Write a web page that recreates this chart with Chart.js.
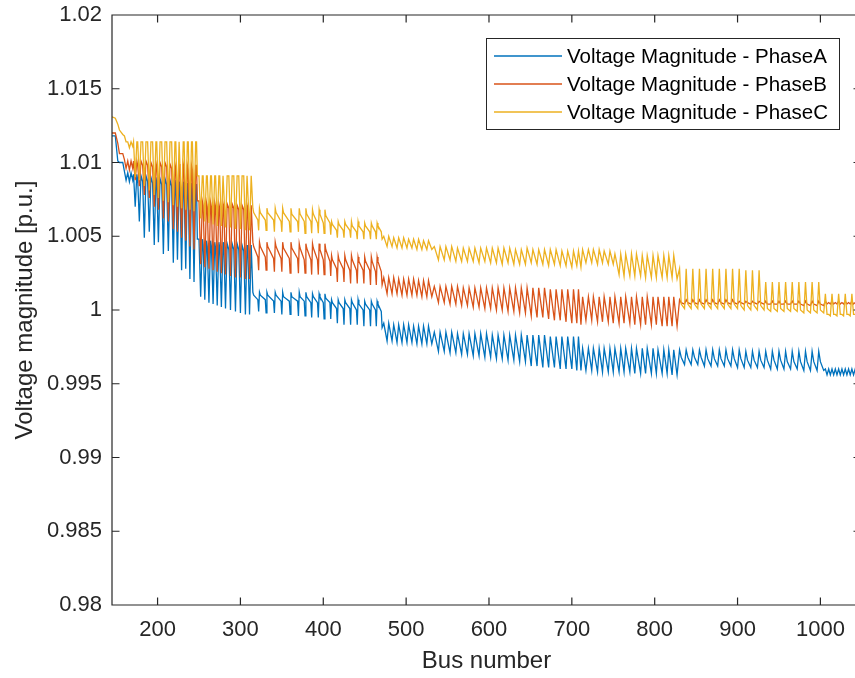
<!DOCTYPE html>
<html>
<head>
<meta charset="utf-8">
<title>Voltage magnitude per bus</title>
<script src="https://cdn.jsdelivr.net/npm/chart.js@4.4.1/dist/chart.umd.min.js"></script>
<style>
  html, body { margin: 0; padding: 0; background: #fff; overflow: hidden; }
  #grafico { display: block; }
</style>
</head>
<body>
<canvas id="grafico" width="870" height="678"></canvas>
<script>
// bus numbers shared by the three phases (same feeder topology)
const busNumber = [
  145, 149, 152, 154, 158, 160, 162, 164, 166, 168, 170,
  171,173,175, 176,178,180, 182,184,186, 188,190,192,
  194,196,198, 199,201,203, 205,207,209, 211,213,215,
  217,219,221, 222,224,226, 227,229,231, 232,234,236,
  237,239,241, 242,244,246,
  247, 248,
  250,252,254, 255,257,259, 260,262,264, 265,267,269,
  270,272,274, 275,277,279, 280,282,284, 286,288,290,
  292,294,296, 298,300,302, 304,306,308, 309,311,313,
  315,316,321,322, 323,324,330,331, 332,333,340,341,
  342,343,349,350, 351,352,359,360, 361,362,369,370,
  371,372,377,378, 379,380,385,386, 387,388,393,394,
  395,396,400,401, 402,403,408,409,
  410,411,416,417, 418,419,424,425, 426,427,432,433,
  434,435,440,441, 442,443,448,449, 450,451,456,457,
  458,459,463,464, 465,466,470,471,
  473,477, 479,483, 485,489, 491,495, 497,501,
  503,507, 509,513, 515,519, 521,525, 527,531,
  534,539, 541,546, 548,553, 555,560, 562,567, 569,574, 576,581, 583,588,
  590,595, 597,602, 604,609, 611,616, 618,623, 625,630, 632,637, 639,644,
  646,651, 653,658, 660,665, 667,672, 674,679,
  681,686, 688,693, 695,700, 702,706, 708,711,
  713,717, 720,724, 726,731, 733,737, 739,744, 746,750,
  752,757, 759,763, 765,770, 772,776, 778,783, 785,789,
  791,796, 798,802, 804,809, 811,815, 817,821, 823,827,
  830,832,836, 838,840,844, 846,848,852, 854,856,860,
  862,864,868, 870,872,876, 878,880,884, 886,888,892,
  894,896,900, 902,904,908, 910,912,916, 918,920,924,
  926,928,932, 934,936,940, 942,944,948, 950,952,956,
  958,960,964, 966,968,972, 974,976,980, 982,984,988,
  990,992,996, 998,1000,1004,
  1006,1008,1010,1012, 1014,1016,1018,1020, 1022,1024,1026,1028,
  1030,1032,1034,1036, 1038,1040,1042,1044, 1046,1048,1049
];

const voltageA = [
  1.0118, 1.0118, 1.0101, 1.0100, 1.0100, 1.0094, 1.0088, 1.0093, 1.0087, 1.0093, 1.0088,
  1.0092,1.0070,1.0092, 1.0088,1.0060,1.0091, 1.0087,1.0049,1.0091, 1.0087,1.0053,1.0090,
  1.0086,1.0044,1.0090, 1.0086,1.0046,1.0089, 1.0085,1.0038,1.0089, 1.0085,1.0040,1.0088,
  1.0084,1.0032,1.0088, 1.0084,1.0034,1.0087, 1.0083,1.0027,1.0087, 1.0083,1.0028,1.0086,
  1.0082,1.0021,1.0086, 1.0082,1.0019,1.0085,
  1.0085, 1.0048,
  1.0048,1.0009,1.0048, 1.0044,1.0007,1.0047, 1.0043,1.0005,1.0047, 1.0043,1.0004,1.0046,
  1.0042,1.0003,1.0046, 1.0042,1.0002,1.0046, 1.0042,1.0001,1.0045, 1.0041,1.0000,1.0045,
  1.0041,0.9999,1.0045, 1.0041,0.9998,1.0044, 1.0040,0.9997,1.0044, 1.0040,0.9997,1.0044,
  1.0012,1.0010,1.0007,0.9999, 1.0012,1.0010,1.0007,0.9998, 1.0012,1.0010,1.0006,0.9998,
  1.0012,1.0010,1.0006,0.9997, 1.0012,1.0009,1.0006,0.9997, 1.0012,1.0009,1.0006,0.9996,
  1.0012,1.0009,1.0006,0.9996, 1.0012,1.0009,1.0005,0.9995, 1.0011,1.0009,1.0005,0.9995,
  1.0011,1.0009,1.0005,0.9994, 1.0011,1.0008,1.0005,0.9994,
  1.0007,1.0005,1.0001,0.9991, 1.0007,1.0005,1.0001,0.9990, 1.0007,1.0005,1.0001,0.9990,
  1.0007,1.0005,1.0000,0.9990, 1.0007,1.0004,1.0000,0.9989, 1.0006,1.0004,1.0000,0.9989,
  1.0006,1.0004,1.0000,0.9989, 1.0006,1.0004,0.9999,0.9988,
  0.9991,0.9979, 0.9991,0.9979, 0.9990,0.9978, 0.9990,0.9978, 0.9990,0.9978,
  0.9990,0.9978, 0.9989,0.9977, 0.9989,0.9977, 0.9989,0.9977, 0.9989,0.9977,
  0.9985,0.9972, 0.9985,0.9972, 0.9985,0.9971, 0.9985,0.9971, 0.9984,0.9970, 0.9984,0.9970, 0.9984,0.9969, 0.9984,0.9969,
  0.9984,0.9968, 0.9984,0.9968, 0.9983,0.9967, 0.9983,0.9967, 0.9983,0.9966, 0.9983,0.9966, 0.9983,0.9965, 0.9983,0.9965,
  0.9983,0.9962, 0.9983,0.9962, 0.9983,0.9961, 0.9983,0.9961, 0.9982,0.9961,
  0.9982,0.9960, 0.9982,0.9960, 0.9982,0.9960, 0.9982,0.9959, 0.9982,0.9959,
  0.9974,0.9959, 0.9974,0.9959, 0.9974,0.9958, 0.9974,0.9958, 0.9974,0.9958, 0.9974,0.9958,
  0.9974,0.9958, 0.9974,0.9958, 0.9974,0.9958, 0.9974,0.9957, 0.9974,0.9957, 0.9974,0.9957,
  0.9974,0.9957, 0.9974,0.9957, 0.9973,0.9957, 0.9973,0.9957, 0.9973,0.9956, 0.9973,0.9956,
  0.9973,0.9968,0.9963, 0.9973,0.9968,0.9963, 0.9973,0.9968,0.9963, 0.9973,0.9968,0.9962,
  0.9973,0.9967,0.9962, 0.9973,0.9967,0.9962, 0.9973,0.9967,0.9962, 0.9973,0.9967,0.9962,
  0.9973,0.9967,0.9961, 0.9973,0.9967,0.9961, 0.9972,0.9966,0.9961, 0.9972,0.9966,0.9961,
  0.9972,0.9966,0.9961, 0.9972,0.9966,0.9960, 0.9972,0.9966,0.9960, 0.9972,0.9966,0.9960,
  0.9972,0.9965,0.9960, 0.9972,0.9965,0.9960, 0.9972,0.9965,0.9959, 0.9972,0.9965,0.9959,
  0.9972,0.9965,0.9959, 0.9972,0.9965,0.9959,
  0.9960,0.9956,0.9960,0.9956, 0.9960,0.9956,0.9960,0.9956, 0.9960,0.9956,0.9960,0.9956,
  0.9960,0.9956,0.9960,0.9956, 0.9960,0.9956,0.9960,0.9956, 0.9960,0.9956,0.9958
];

const voltageB = [
  1.0120, 1.0120, 1.0113, 1.0106, 1.0106, 1.0102, 1.0096, 1.0101, 1.0095, 1.0101, 1.0096,
  1.0101,1.0088,1.0101, 1.0098,1.0084,1.0101, 1.0098,1.0078,1.0101, 1.0098,1.0076,1.0100,
  1.0097,1.0070,1.0100, 1.0097,1.0068,1.0100, 1.0097,1.0062,1.0100, 1.0097,1.0060,1.0099,
  1.0096,1.0055,1.0099, 1.0096,1.0053,1.0099, 1.0096,1.0049,1.0099, 1.0096,1.0047,1.0098,
  1.0095,1.0043,1.0098, 1.0095,1.0041,1.0098,
  1.0098, 1.0074,
  1.0074,1.0031,1.0074, 1.0071,1.0029,1.0073, 1.0070,1.0028,1.0073, 1.0070,1.0027,1.0073,
  1.0070,1.0026,1.0072, 1.0069,1.0025,1.0072, 1.0069,1.0024,1.0072, 1.0069,1.0023,1.0072,
  1.0069,1.0022,1.0071, 1.0068,1.0022,1.0071, 1.0068,1.0021,1.0071, 1.0068,1.0021,1.0071,
  1.0046,1.0043,1.0036,1.0027, 1.0046,1.0043,1.0036,1.0027, 1.0046,1.0043,1.0035,1.0026,
  1.0046,1.0043,1.0035,1.0026, 1.0046,1.0042,1.0035,1.0025, 1.0046,1.0042,1.0035,1.0025,
  1.0045,1.0042,1.0034,1.0025, 1.0045,1.0042,1.0034,1.0024, 1.0045,1.0042,1.0034,1.0024,
  1.0045,1.0041,1.0034,1.0024, 1.0045,1.0041,1.0033,1.0023,
  1.0037,1.0034,1.0028,1.0019, 1.0037,1.0034,1.0028,1.0019, 1.0037,1.0034,1.0027,1.0018,
  1.0037,1.0034,1.0027,1.0018, 1.0036,1.0033,1.0027,1.0018, 1.0036,1.0033,1.0027,1.0017,
  1.0036,1.0033,1.0026,1.0017, 1.0036,1.0033,1.0026,1.0017,
  1.0022,1.0011, 1.0022,1.0011, 1.0022,1.0011, 1.0021,1.0010, 1.0021,1.0010,
  1.0021,1.0010, 1.0021,1.0010, 1.0020,1.0009, 1.0020,1.0009, 1.0020,1.0009,
  1.0016,1.0005, 1.0016,1.0005, 1.0016,1.0004, 1.0016,1.0004, 1.0016,1.0003, 1.0015,1.0003, 1.0015,1.0002, 1.0015,1.0002,
  1.0015,1.0001, 1.0015,1.0001, 1.0015,1.0000, 1.0015,1.0000, 1.0015,0.9999, 1.0015,0.9999, 1.0015,0.9998, 1.0015,0.9998,
  1.0015,0.9996, 1.0015,0.9995, 1.0015,0.9995, 1.0015,0.9994, 1.0014,0.9993,
  1.0014,0.9993, 1.0014,0.9992, 1.0014,0.9991, 1.0014,0.9991, 1.0014,0.9990,
  1.0009,0.9993, 1.0009,0.9993, 1.0009,0.9992, 1.0009,0.9992, 1.0009,0.9992, 1.0009,0.9991,
  1.0009,0.9991, 1.0009,0.9991, 1.0009,0.9991, 1.0009,0.9990, 1.0009,0.9990, 1.0009,0.9990,
  1.0009,0.9990, 1.0009,0.9990, 1.0009,0.9989, 1.0009,0.9989, 1.0009,0.9989, 1.0009,0.9989,
  1.0007,1.0005,1.0004, 1.0007,1.0005,1.0004, 1.0007,1.0005,1.0004, 1.0007,1.0005,1.0004,
  1.0007,1.0005,1.0004, 1.0007,1.0005,1.0004, 1.0007,1.0005,1.0004, 1.0007,1.0005,1.0004,
  1.0007,1.0005,1.0004, 1.0006,1.0005,1.0004, 1.0006,1.0005,1.0004, 1.0006,1.0005,1.0004,
  1.0006,1.0005,1.0004, 1.0006,1.0004,1.0004, 1.0006,1.0004,1.0004, 1.0006,1.0004,1.0004,
  1.0006,1.0004,1.0004, 1.0006,1.0004,1.0004, 1.0006,1.0004,1.0003, 1.0006,1.0004,1.0003,
  1.0006,1.0004,1.0003, 1.0006,1.0004,1.0003,
  1.0006,1.0004,1.0005,1.0004, 1.0006,1.0004,1.0005,1.0004, 1.0006,1.0004,1.0005,1.0004,
  1.0006,1.0004,1.0005,1.0004, 1.0006,1.0004,1.0005,1.0004, 1.0006,1.0004,1.0005
];

const voltageC = [
  1.0131, 1.0130, 1.0126, 1.0122, 1.0119, 1.0118, 1.0114, 1.0114, 1.0110, 1.0114, 1.0111,
  1.0114,1.0090,1.0114, 1.0114,1.0088,1.0114, 1.0114,1.0084,1.0114, 1.0114,1.0081,1.0114,
  1.0114,1.0078,1.0114, 1.0114,1.0076,1.0114, 1.0114,1.0074,1.0114, 1.0114,1.0073,1.0114,
  1.0114,1.0071,1.0114, 1.0114,1.0070,1.0114, 1.0114,1.0069,1.0114, 1.0114,1.0068,1.0114,
  1.0114,1.0068,1.0114, 1.0114,1.0067,1.0114,
  1.0114, 1.0091,
  1.0091,1.0062,1.0091, 1.0091,1.0060,1.0091, 1.0091,1.0059,1.0091, 1.0091,1.0058,1.0091,
  1.0091,1.0057,1.0091, 1.0091,1.0057,1.0091, 1.0091,1.0056,1.0091, 1.0091,1.0056,1.0091,
  1.0091,1.0055,1.0091, 1.0091,1.0055,1.0091, 1.0091,1.0054,1.0091, 1.0091,1.0054,1.0091,
  1.0069,1.0066,1.0061,1.0054, 1.0069,1.0066,1.0061,1.0054, 1.0069,1.0066,1.0061,1.0053,
  1.0069,1.0066,1.0060,1.0053, 1.0069,1.0066,1.0060,1.0053, 1.0069,1.0065,1.0060,1.0053,
  1.0069,1.0065,1.0060,1.0052, 1.0069,1.0065,1.0060,1.0052, 1.0068,1.0065,1.0059,1.0052,
  1.0068,1.0065,1.0059,1.0052, 1.0068,1.0064,1.0059,1.0051,
  1.0060,1.0058,1.0054,1.0049, 1.0060,1.0058,1.0054,1.0049, 1.0060,1.0058,1.0054,1.0049,
  1.0060,1.0057,1.0053,1.0048, 1.0060,1.0057,1.0053,1.0048, 1.0059,1.0057,1.0053,1.0048,
  1.0059,1.0057,1.0053,1.0048, 1.0059,1.0057,1.0053,1.0048,
  1.0050,1.0043, 1.0050,1.0043, 1.0049,1.0042, 1.0049,1.0042, 1.0049,1.0042,
  1.0048,1.0042, 1.0048,1.0041, 1.0048,1.0041, 1.0047,1.0041, 1.0047,1.0041,
  1.0043,1.0034, 1.0043,1.0034, 1.0043,1.0034, 1.0043,1.0033, 1.0042,1.0033, 1.0042,1.0033, 1.0042,1.0033, 1.0042,1.0032,
  1.0042,1.0033, 1.0042,1.0032, 1.0042,1.0032, 1.0042,1.0031, 1.0042,1.0032, 1.0042,1.0031, 1.0041,1.0031, 1.0041,1.0031,
  1.0042,1.0032, 1.0041,1.0031, 1.0041,1.0031, 1.0041,1.0030, 1.0041,1.0031,
  1.0041,1.0030, 1.0040,1.0030, 1.0040,1.0029, 1.0040,1.0030, 1.0040,1.0029,
  1.0041,1.0032, 1.0041,1.0032, 1.0041,1.0031, 1.0041,1.0032, 1.0040,1.0031, 1.0040,1.0031,
  1.0038,1.0024, 1.0038,1.0023, 1.0038,1.0023, 1.0038,1.0023, 1.0038,1.0023, 1.0037,1.0022,
  1.0037,1.0022, 1.0037,1.0022, 1.0037,1.0022, 1.0037,1.0022, 1.0037,1.0022, 1.0037,1.0021,
  1.0028,1.0004,1.0001, 1.0028,1.0004,1.0001, 1.0028,1.0004,1.0001, 1.0028,1.0004,1.0001,
  1.0028,1.0004,1.0001, 1.0028,1.0004,1.0001, 1.0028,1.0004,1.0001, 1.0028,1.0004,1.0001,
  1.0028,1.0004,1.0001, 1.0028,1.0003,1.0000, 1.0027,1.0003,1.0000, 1.0027,1.0003,1.0000,
  1.0027,1.0003,1.0000, 1.0019,1.0001,0.9999, 1.0019,1.0001,0.9999, 1.0019,1.0001,0.9999,
  1.0019,1.0001,0.9999, 1.0019,1.0001,0.9999, 1.0019,1.0000,0.9998, 1.0019,1.0000,0.9998,
  1.0019,1.0000,0.9998, 1.0019,1.0000,0.9998,
  1.0011,0.9997,0.9997,0.9996, 1.0011,0.9997,0.9997,0.9996, 1.0011,0.9997,0.9997,0.9996,
  1.0011,0.9997,0.9997,0.9996, 1.0011,0.9997,0.9997,0.9996, 1.0011,0.9997,0.9996
];

const busTicks = [200, 300, 400, 500, 600, 700, 800, 900, 1000];
const voltageTicks = [0.98, 0.985, 0.99, 0.995, 1, 1.005, 1.01, 1.015, 1.02];
const voltageTickLabels = ["0.98", "0.985", "0.99", "0.995", "1", "1.005", "1.01", "1.015", "1.02"];
const phaseNames = ["Voltage Magnitude - PhaseA", "Voltage Magnitude - PhaseB", "Voltage Magnitude - PhaseC"];
const phaseColors = ["#0072BD", "#D95319", "#EDB120"];

[voltageA, voltageB, voltageC].forEach((v, i) => {
  if (v.length !== busNumber.length) {
    throw new Error("phase " + i + " has " + v.length + " values, expected " + busNumber.length);
  }
});

const FUENTE = "'Liberation Sans', Arial, Helvetica, sans-serif";
const GRIS = "#262626";
const TICK_LEN = 7.5;

const puntos = (v) => busNumber.map((b, i) => ({ x: b, y: v[i] }));

// no extra room for half labels at the ends, the plot box is placed by hand
const sinRelleno = (s) => {
  s.paddingTop = 0; s.paddingBottom = 0;
  s.paddingLeft = 0; s.paddingRight = 0;
};

// box around the axes with inward ticks on all four sides
const cajaEjes = {
  id: "cajaEjes",
  afterDatasetsDraw(chart) {
    const { ctx, chartArea: a, scales } = chart;
    ctx.save();
    ctx.strokeStyle = GRIS;
    ctx.lineWidth = 1.2;
    ctx.beginPath();
    ctx.rect(a.left, a.top, a.right - a.left, a.bottom - a.top);
    busTicks.forEach((t) => {
      const px = scales.x.getPixelForValue(t);
      ctx.moveTo(px, a.bottom); ctx.lineTo(px, a.bottom - TICK_LEN);
      ctx.moveTo(px, a.top); ctx.lineTo(px, a.top + TICK_LEN);
    });
    voltageTicks.forEach((t) => {
      const py = scales.y.getPixelForValue(t);
      ctx.moveTo(a.left, py); ctx.lineTo(a.left + TICK_LEN, py);
      ctx.moveTo(a.right, py); ctx.lineTo(a.right - TICK_LEN, py);
    });
    ctx.stroke();
    ctx.restore();
  }
};

// legend box in the upper right corner of the plot
const leyenda = {
  id: "leyenda",
  afterDraw(chart) {
    const { ctx } = chart;
    const box = { x: 486.5, y: 38.5, w: 353, h: 91 };
    ctx.save();
    ctx.fillStyle = "#fff";
    ctx.fillRect(box.x, box.y, box.w, box.h);
    ctx.strokeStyle = GRIS;
    ctx.lineWidth = 1;
    ctx.strokeRect(box.x, box.y, box.w, box.h);
    ctx.font = "20.5px " + FUENTE;
    ctx.textBaseline = "middle";
    ctx.textAlign = "left";
    chart.data.datasets.forEach((ds, i) => {
      const yy = 56 + i * 28;
      ctx.strokeStyle = ds.borderColor;
      ctx.lineWidth = 1.3;
      ctx.beginPath();
      ctx.moveTo(494, yy);
      ctx.lineTo(562, yy);
      ctx.stroke();
      ctx.fillStyle = "#000";
      ctx.fillText(ds.label, 567, yy + 1.5);
    });
    ctx.restore();
  }
};

const ctx = document.getElementById("grafico").getContext("2d");
new Chart(ctx, {
  type: "line",
  data: {
    datasets: [voltageA, voltageB, voltageC].map((v, i) => ({
      label: phaseNames[i],
      data: puntos(v),
      borderColor: phaseColors[i],
      borderWidth: 1.3,
      pointRadius: 0,
      tension: 0,
      fill: false,
      order: 3 - i // phase C ends up drawn on top
    }))
  },
  options: {
    responsive: false,
    animation: false,
    events: [],
    layout: { padding: { top: 15, right: 9, left: 0, bottom: 0 } },
    plugins: { legend: { display: false }, tooltip: { enabled: false } },
    scales: {
      x: {
        type: "linear",
        min: 145,
        max: 1049,
        grid: { display: false, drawTicks: false },
        border: { display: false },
        afterBuildTicks: (s) => { s.ticks = busTicks.map((v) => ({ value: v })); },
        afterFit: (s) => { s.height = 73; sinRelleno(s); },
        ticks: {
          color: GRIS,
          font: { family: FUENTE, size: 22 },
          padding: 11.4,
          maxRotation: 0,
          autoSkip: false,
          callback: (v) => String(v)
        },
        title: {
          display: true,
          text: "Bus number",
          color: GRIS,
          font: { family: FUENTE, size: 24 },
          padding: { top: 0, bottom: 2.6 }
        }
      },
      y: {
        type: "linear",
        min: 0.98,
        max: 1.02,
        grid: { display: false, drawTicks: false },
        border: { display: false },
        afterBuildTicks: (s) => { s.ticks = voltageTicks.map((v) => ({ value: v })); },
        afterFit: (s) => { s.width = 112; sinRelleno(s); },
        ticks: {
          color: GRIS,
          font: { family: FUENTE, size: 22 },
          padding: 10,
          autoSkip: false,
          callback: (v, i) => voltageTickLabels[i]
        },
        title: {
          display: true,
          text: "Voltage magnitude [p.u.]",
          color: GRIS,
          font: { family: FUENTE, size: 24 },
          padding: { top: 10.6, bottom: 0 }
        }
      }
    }
  },
  plugins: [cajaEjes, leyenda]
});
</script>
</body>
</html>
